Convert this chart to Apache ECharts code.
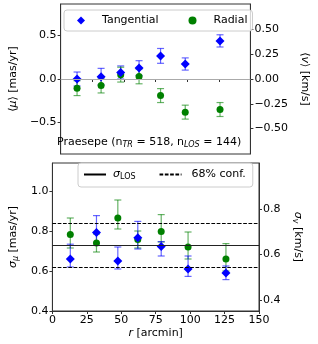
<!DOCTYPE html>
<html><head><meta charset="utf-8">
<script src="https://cdn.jsdelivr.net/npm/echarts@6/dist/echarts.min.js"></script>
<style>html,body{margin:0;padding:0;background:#fff}#c{width:318px;height:344px}</style>
</head><body><div id="c"></div>
<script>
// ---- data ----
const radius = [13, 32, 47.5, 62, 79, 98.5, 126];
const meanTan = [0.0, 0.027, 0.075, 0.125, 0.265, 0.172, 0.437];
const meanTanErr = [0.08, 0.095, 0.075, 0.085, 0.085, 0.07, 0.07];
const meanRad = [-0.105, -0.075, 0.05, 0.03, -0.19, -0.38, -0.35];
const meanRadErr = [0.085, 0.085, 0.085, 0.085, 0.08, 0.08, 0.08];
const sigTan = [0.66, 0.793, 0.65, 0.766, 0.722, 0.61, 0.59];
const sigTanLo = [0.62, 0.74, 0.61, 0.71, 0.675, 0.573, 0.557];
const sigTanHi = [0.734, 0.877, 0.72, 0.848, 0.747, 0.675, 0.625];
const sigRad = [0.782, 0.74, 0.865, 0.757, 0.798, 0.72, 0.66];
const sigRadLo = [0.715, 0.695, 0.81, 0.715, 0.745, 0.66, 0.6];
const sigRadHi = [0.865, 0.785, 0.955, 0.8, 0.882, 0.795, 0.737];
const sigmaLOS = 0.728;
const conf68 = [0.617, 0.845];
const xTicks = [0, 25, 50, 75, 100, 125, 150];
const muTicks = [-0.5, 0, 0.5];
const vTicks = [-0.5, -0.25, 0, 0.25, 0.5];
const sigMuTicks = [0.4, 0.6, 0.8, 1.0];
const sigVTicks = [0.4, 0.6, 0.8];

const FONT = 'DejaVu Sans';
const FS = 11;
const AX = '#333';
const fmt = d => v => (v < 0 ? '\u2212' : '') + Math.abs(v).toFixed(d);

function errSeries(name, xi, yi, lo, hi, color) {
  return {
    type: 'custom', name: name, xAxisIndex: xi, yAxisIndex: yi, z: 2, silent: true,
    data: radius.map((r, i) => [r, lo[i], hi[i]]),
    renderItem: function (params, api) {
      const a = api.coord([api.value(0), api.value(1)]);
      const b = api.coord([api.value(0), api.value(2)]);
      const w = 3.5;
      const st = { stroke: color, lineWidth: 1.2 };
      return { type: 'group', children: [
        { type: 'line', shape: { x1: a[0], y1: a[1], x2: b[0], y2: b[1] }, style: st },
        { type: 'line', shape: { x1: a[0] - w, y1: a[1], x2: a[0] + w, y2: a[1] }, style: st },
        { type: 'line', shape: { x1: b[0] - w, y1: b[1], x2: b[0] + w, y2: b[1] }, style: st }
      ]};
    }
  };
}

const blueErr = 'rgba(0,0,255,0.6)';
const greenErr = 'rgba(0,128,0,0.6)';
const nameRich = { i: { fontStyle: 'italic', fontFamily: FONT, fontSize: FS },
                   s: { fontStyle: 'italic', fontFamily: FONT, fontSize: 8, padding: [5, 0, 0, 0] } };

function yAx(grid, pos, min, max, ticks, dec, name, gap, rot) {
  return {
    type: 'value', gridIndex: grid, position: pos, min: min, max: max,
    splitLine: { show: false },
    axisLine: { show: true, lineStyle: { color: AX, width: 1 } },
    axisTick: { show: true, inside: false, length: 3, customValues: ticks, lineStyle: { color: AX } },
    axisLabel: { show: true, customValues: ticks, formatter: fmt(dec), color: '#000', fontFamily: FONT, fontSize: FS, margin: 4 },
    name: name, nameLocation: 'middle', nameGap: gap, nameRotate: rot,
    nameTextStyle: { color: '#000', fontFamily: FONT, fontSize: FS, rich: nameRich }
  };
}

const option = {
  animation: false,
  backgroundColor: '#fff',
  grid: [
    { left: 50, top: 4, width: 209, height: 150, show: true, borderColor: AX, borderWidth: 1 },
    { left: 50, top: 163, width: 209, height: 148, show: true, borderColor: AX, borderWidth: 1 }
  ],
  xAxis: [
    { type: 'value', gridIndex: 0, min: 0, max: 150, splitLine: { show: false },
      axisLine: { show: true, lineStyle: { color: AX } },
      axisTick: { show: true, length: 3, customValues: xTicks, lineStyle: { color: AX } },
      axisLabel: { show: false } },
    { type: 'value', gridIndex: 1, min: 0, max: 150, splitLine: { show: false },
      axisLine: { show: true, lineStyle: { color: AX } },
      axisTick: { show: true, length: 3, customValues: xTicks, lineStyle: { color: AX } },
      axisLabel: { show: true, customValues: xTicks, color: '#000', fontFamily: FONT, fontSize: FS, margin: 4 },
      name: '{i|r} [arcmin]', nameLocation: 'middle', nameGap: 17,
      nameTextStyle: { color: '#000', fontFamily: FONT, fontSize: FS, rich: nameRich } }
  ],
  yAxis: [
    yAx(0, 'left', -0.86, 0.86, muTicks, 1, '\u27e8{i|\u03bc}\u27e9 [mas/yr]', 32, 90),
    yAx(0, 'right', -0.757, 0.757, vTicks, 2, '\u27e8{i|v}\u27e9 [km/s]', 40, -90),
    yAx(1, 'left', 0.4, 1.14, sigMuTicks, 1, '{i|\u03c3}{s|\u03bc} [mas/yr]', 31, 90),
    yAx(1, 'right', 0.352, 1.003, sigVTicks, 1, '{i|\u03c3}{s|v} [km/s]', 28, -90)
  ],
  legend: [
    { left: 64, top: 10, orient: 'horizontal', data: ['Tangential', 'Radial'],
      itemWidth: 8, itemHeight: 8, itemGap: 30, padding: [5, 5, 5, 13],
      borderColor: '#ccc', borderWidth: 1, borderRadius: 3, backgroundColor: 'rgba(255,255,255,0.8)',
      formatter: n => '{p| }' + n,
      textStyle: { color: '#000', fontFamily: FONT, fontSize: FS, rich: { p: { width: 12, fontSize: FS } } } },
    { left: 78, top: 163, orient: 'horizontal',
      data: [{ name: 'sLOS', itemStyle: { opacity: 0 } }, { name: 'conf', itemStyle: { opacity: 0 } }],
      itemWidth: 22, itemHeight: 10, itemGap: 23, padding: [6, 7, 6, 5],
      borderColor: '#ccc', borderWidth: 1, borderRadius: 3, backgroundColor: 'rgba(255,255,255,0.8)',
      formatter: n => n === 'sLOS' ? '{p| }{i|\u03c3}{s|LOS}' : '{q| }68% conf.',
      textStyle: { color: '#000', fontFamily: FONT, fontSize: FS,
        rich: { p: { width: 2, fontSize: FS }, q: { width: 5, fontSize: FS },
                i: { fontStyle: 'italic', fontFamily: FONT, fontSize: FS },
                s: { fontFamily: FONT, fontSize: 8, padding: [5, 0, 0, 0] } } } }
  ],
  graphic: [
    { type: 'text', left: 57, top: 137, z: 10,
      style: { text: 'Praesepe (n{s|TR} = 518, n{s|LOS} = 144)', fill: '#000', fontFamily: FONT, fontSize: FS,
        rich: { s: { fontStyle: 'italic', fontFamily: FONT, fontSize: 8, padding: [5, 0, 0, 0] } } } }
  ],
  series: [
    { type: 'line', name: 'zero', xAxisIndex: 0, yAxisIndex: 0, data: [], z: 1,
      markLine: { silent: true, symbol: 'none', label: { show: false },
        lineStyle: { color: '#aaa', type: 'solid', width: 1.2 }, data: [{ yAxis: 0 }] } },
    errSeries('eTan', 0, 0, meanTan.map((v, i) => v - meanTanErr[i]), meanTan.map((v, i) => v + meanTanErr[i]), blueErr),
    errSeries('eRad', 0, 0, meanRad.map((v, i) => v - meanRadErr[i]), meanRad.map((v, i) => v + meanRadErr[i]), greenErr),
    { type: 'scatter', name: 'Radial', xAxisIndex: 0, yAxisIndex: 0, symbol: 'circle', symbolSize: 7, z: 3,
      itemStyle: { color: '#008000', opacity: 1 }, data: radius.map((r, i) => [r, meanRad[i]]) },
    { type: 'scatter', name: 'Tangential', xAxisIndex: 0, yAxisIndex: 0, symbol: 'diamond', symbolSize: 9, z: 4,
      itemStyle: { color: '#0000ff', opacity: 1 }, data: radius.map((r, i) => [r, meanTan[i]]) },

    { type: 'line', name: 'sLOS', xAxisIndex: 1, yAxisIndex: 2, data: [], symbol: 'none', z: 1,
      lineStyle: { color: '#000', width: 1.2, type: 'solid' }, itemStyle: { color: '#000' },
      markLine: { silent: true, symbol: 'none', label: { show: false },
        lineStyle: { color: '#222', type: 'solid', width: 1.2 }, data: [{ yAxis: sigmaLOS }] } },
    { type: 'line', name: 'conf', xAxisIndex: 1, yAxisIndex: 2, data: [], symbol: 'none', z: 1,
      lineStyle: { color: '#000', width: 1.2, type: [3.7, 1.6] }, itemStyle: { color: '#000' },
      markLine: { silent: true, symbol: 'none', label: { show: false },
        lineStyle: { color: '#000', type: [3.7, 1.6], width: 1.2 }, data: conf68.map(v => ({ yAxis: v })) } },
    errSeries('esRad', 1, 2, sigRadLo, sigRadHi, greenErr),
    errSeries('esTan', 1, 2, sigTanLo, sigTanHi, blueErr),
    { type: 'scatter', name: 'sigRad', xAxisIndex: 1, yAxisIndex: 2, symbol: 'circle', symbolSize: 7, z: 3,
      itemStyle: { color: '#008000', opacity: 1 }, data: radius.map((r, i) => [r, sigRad[i]]) },
    { type: 'scatter', name: 'sigTan', xAxisIndex: 1, yAxisIndex: 2, symbol: 'diamond', symbolSize: 9, z: 4,
      itemStyle: { color: '#0000ff', opacity: 1 }, data: radius.map((r, i) => [r, sigTan[i]]) }
  ]
};
const chart = echarts.init(document.getElementById('c'), null, { renderer: 'canvas' });
chart.setOption(option);
</script></body></html>
